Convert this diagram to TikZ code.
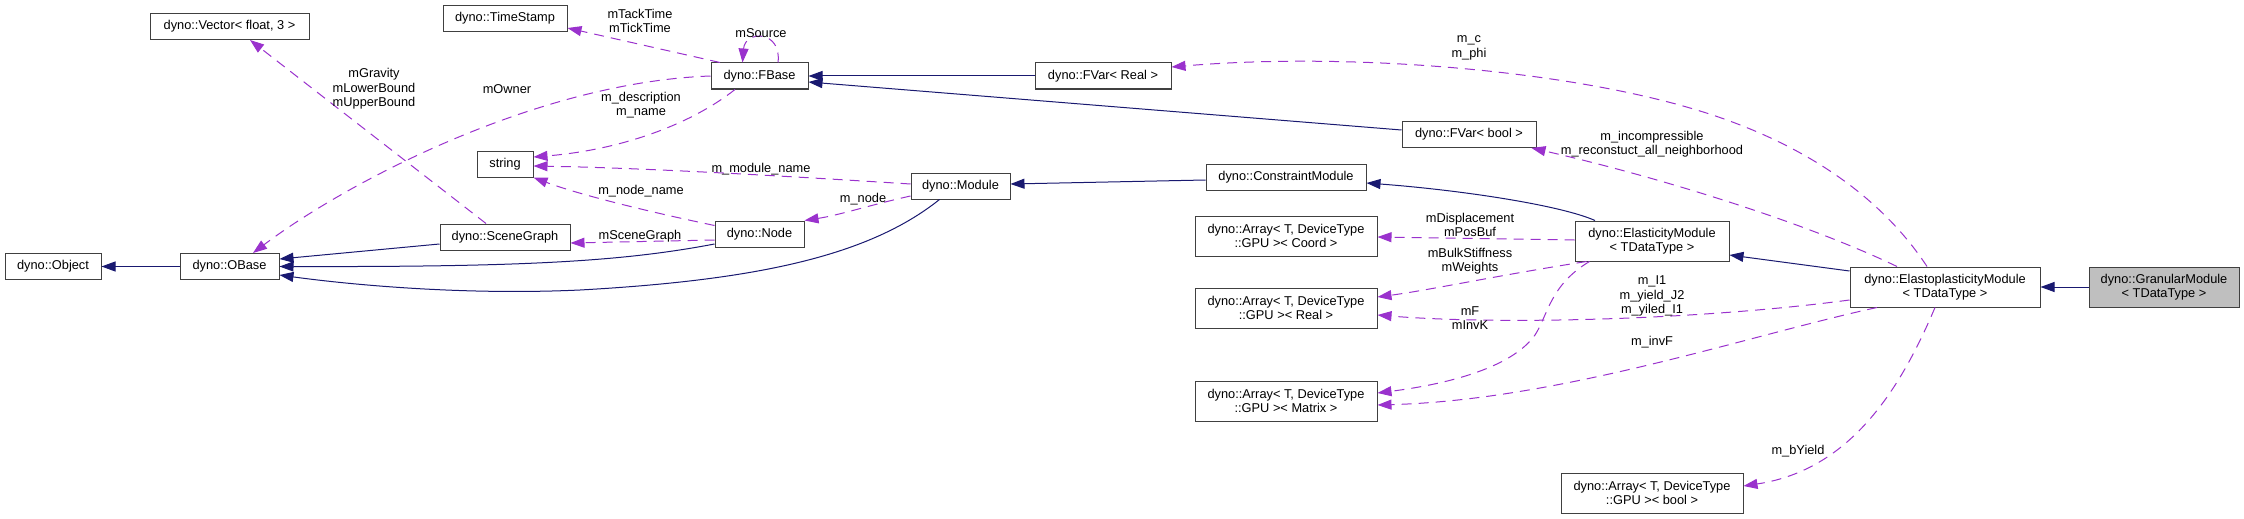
\documentclass[tikz,border=0pt]{standalone}
\usepackage{fontspec}
\setmainfont{Liberation Sans}
\usetikzlibrary{arrows.meta, positioning}
\definecolor{navyline}{HTML}{191970}
\definecolor{orchidline}{HTML}{9A32CD}
\definecolor{boxline}{HTML}{404040}
\definecolor{hlfill}{HTML}{BFBFBF}
\newcommand{\gvfont}{\fontsize{12.8}{14.5}\selectfont}

\begin{document}
\begin{tikzpicture}[
    x=1pt, y=-1pt,
    cls/.style={rectangle, draw=boxline, fill=white, line width=1pt, minimum height=26pt, inner sep=1pt, align=center, font=\gvfont},
    cls2/.style={cls, minimum height=40pt},
    current/.style={cls2, fill=hlfill},
    inherit/.style={draw=navyline, line width=1pt, -{Triangle[length=14pt, width=10pt]}},
    member/.style={draw=orchidline, line width=1pt, dash pattern=on 10pt off 7pt, -{Triangle[length=14pt, width=10pt]}},
    lbl/.style={font=\gvfont, align=center, inner sep=0pt, yshift=-2pt}
]
\useasboundingbox (0,0) rectangle (2244,519);

% classes
\node[cls, minimum width=96pt] (object) at (53,266.5) {dyno::Object};
\node[cls, minimum width=99pt] (obase) at (229.5,266.5) {dyno::OBase};
\node[cls, minimum width=159pt] (vec) at (229.5,26.5) {dyno::Vector< float, 3 >};
\node[cls, minimum width=124pt] (tstamp) at (505,18.5) {dyno::TimeStamp};
\node[cls, minimum width=97pt] (fbase) at (759.5,76) {dyno::FBase};
\node[cls, minimum width=56pt] (str) at (505,164) {string};
\node[cls, minimum width=130pt] (sgraph) at (505,237) {dyno::SceneGraph};
\node[cls, minimum width=89pt] (node) at (759.5,234) {dyno::Node};
\node[cls, minimum width=99pt] (module) at (960.5,186) {dyno::Module};
\node[cls, minimum width=136pt] (fvreal) at (1103,76) {dyno::FVar< Real >};
\node[cls, minimum width=134pt] (fvbool) at (1469,134.5) {dyno::FVar< bool >};
\node[cls, minimum width=160pt] (cmodule) at (1286,177.5) {dyno::ConstraintModule};
\node[cls2, minimum width=182pt] (arrcoord) at (1286,236) {dyno::Array< T, DeviceType\\::GPU >< Coord >};
\node[cls2, minimum width=182pt] (arrreal) at (1286,308) {dyno::Array< T, DeviceType\\::GPU >< Real >};
\node[cls2, minimum width=182pt] (arrmat) at (1286,401) {dyno::Array< T, DeviceType\\::GPU >< Matrix >};
\node[cls2, minimum width=182pt] (arrbool) at (1652,493) {dyno::Array< T, DeviceType\\::GPU >< bool >};
\node[cls2, minimum width=154pt] (elast) at (1652,241) {dyno::ElasticityModule\\< TDataType >};
\node[cls2, minimum width=190pt] (eplast) at (1945,287) {dyno::ElastoplasticityModule\\< TDataType >};
\node[current, minimum width=150pt] (gran) at (2164,287) {dyno::GranularModule\\< TDataType >};

% inheritance
\draw[inherit] (obase) -- (object);
\draw[inherit] ([yshift=-7pt]sgraph.west) -- ([yshift=7.5pt]obase.east);
\draw[inherit] ([yshift=-10pt]node.west) .. controls (620,262) and (520,267) .. (obase.east);
\draw[inherit] ([xshift=-21pt]module.south) .. controls (870,255) and (760,280) .. (580,290) .. controls (450,296) and (330,282) .. ([yshift=-8.5pt]obase.east);
\draw[inherit] ([yshift=-2.5pt]cmodule.west) -- ([yshift=2pt]module.east);
\draw[inherit] ([xshift=-57pt]elast.north) .. controls (1560,205) and (1460,190) .. ([yshift=-5.5pt]cmodule.east);
\draw[inherit] ([yshift=16pt]eplast.west) -- ([yshift=-14pt]elast.east);
\draw[inherit] (gran) -- (eplast);
\draw[inherit] (fvreal) -- (fbase);
\draw[inherit] ([yshift=4.5pt]fvbool.west) -- ([yshift=-6pt]fbase.east);

% members
\draw[member] ([xshift=-19pt]sgraph.north) -- ([xshift=20.5pt]vec.south);
\draw[member] (fbase.west) .. controls (540,82) and (350,180) .. ([xshift=23.5pt]obase.north);
\draw[member] ([xshift=-39.5pt]fbase.north) -- ([yshift=-9.5pt]tstamp.east);
\draw[member] ([xshift=18.5pt]fbase.north) .. controls (782,30) and (745,30) .. ([xshift=-17pt]fbase.north);
\draw[member] ([xshift=-24.5pt]fbase.south) .. controls (690,125) and (620,150) .. ([yshift=7pt]str.east);
\draw[member] ([yshift=2pt]module.west) .. controls (800,177) and (650,168) .. ([yshift=-2pt]str.east);
\draw[member] ([yshift=-5pt]node.north west) .. controls (650,212) and (580,195) .. (str.south east);
\draw[member] ([yshift=-6pt]node.west) -- ([yshift=-6pt]sgraph.east);
\draw[member] ([yshift=-10pt]module.west) .. controls (870,205) and (840,215) .. (node.north east);
\draw[member] ([xshift=-18pt]eplast.north) .. controls (1880,195) and (1800,140) .. (1690,108) .. controls (1560,70) and (1350,52) .. ([yshift=9pt]fvreal.east);
\draw[member] ([xshift=-48pt]eplast.north) .. controls (1800,220) and (1650,175) .. ([xshift=-5pt]fvbool.south east);
\draw[member] ([yshift=1pt]elast.west) -- ([yshift=-1pt]arrcoord.east);
\draw[member] ([xshift=12pt]elast.south west) .. controls (1500,275) and (1430,290) .. ([yshift=11pt]arrreal.east);
\draw[member] ([xshift=15pt]elast.south west) .. controls (1550,285) and (1548,315) .. (1535,335) .. controls (1510,370) and (1440,385) .. ([yshift=8pt]arrmat.east);
\draw[member] ([yshift=-13pt]eplast.west) .. controls (1700,320) and (1500,325) .. ([yshift=-7pt]arrreal.east);
\draw[member] ([xshift=-68pt]eplast.south) .. controls (1750,335) and (1560,400) .. ([yshift=-4pt]arrmat.east);
\draw[member] ([xshift=-10pt]eplast.south) .. controls (1900,390) and (1850,470) .. ([yshift=7pt]arrbool.east);

% member labels
\node[lbl] (lgrav) at (374,87) {mGravity\\mLowerBound\\mUpperBound};
\node[lbl] (lowner) at (507,87) {mOwner};
\node[lbl] (ltick) at (640,19) {mTackTime\\mTickTime};
\node[lbl] (lsrc) at (761,31) {mSource};
\node[lbl] (ldesc) at (641,103) {m\_description\\m\_name};
\node[lbl] (lmodname) at (761,167) {m\_module\_name};
\node[lbl] (lnodename) at (641,189) {m\_node\_name};
\node[lbl] (lnode) at (863,197) {m\_node};
\node[lbl] (lscene) at (640,234) {mSceneGraph};
\node[lbl] (lcphi) at (1469,46) {m\_c\\m\_phi};
\node[lbl] (lincomp) at (1652,142) {m\_incompressible\\m\_reconstuct\_all\_neighborhood};
\node[lbl] (ldisp) at (1470,223) {mDisplacement\\mPosBuf};
\node[lbl] (lbulk) at (1470,259) {mBulkStiffness\\mWeights};
\node[lbl] (lfinv) at (1470,316) {mF\\mInvK};
\node[lbl] (lyield) at (1652,294) {m\_I1\\m\_yield\_J2\\m\_yiled\_I1};
\node[lbl] (linvf) at (1652,340) {m\_invF};
\node[lbl] (lbyield) at (1798,449) {m\_bYield};

\end{tikzpicture}
\end{document}
